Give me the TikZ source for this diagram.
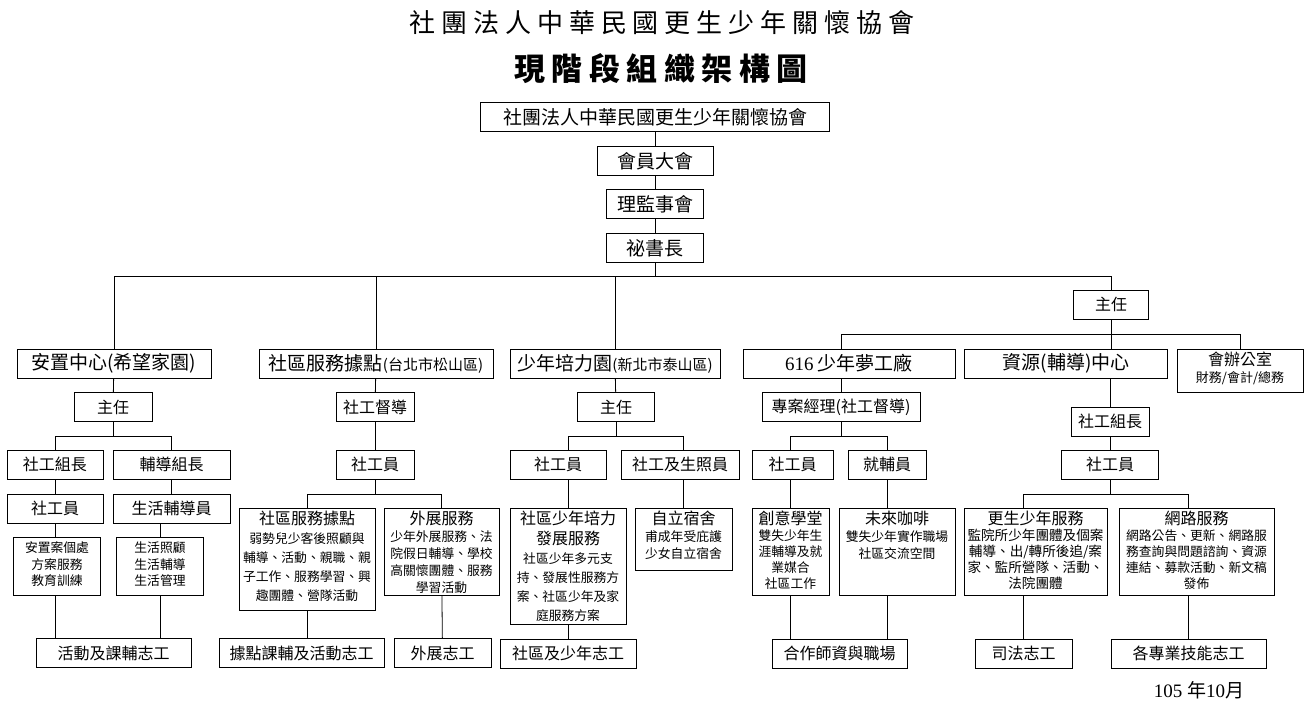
\documentclass[tikz,border=0pt]{standalone}
\usepackage{fontspec}
\setmainfont{Noto Sans CJK TC}
\newfontfamily\numfont{Liberation Serif}
\newfontfamily\titlefont[LetterSpace=23]{Noto Sans CJK TC}
\newfontfamily\subtitlefont[LetterSpace=21]{Noto Sans CJK TC}
\usetikzlibrary{positioning}
\newcommand{\fs}[2]{\fontsize{#1}{#2}\selectfont}
\newcommand{\stack}[4]{\parbox[c][#2][t]{#1}{\centering\vspace*{#3}#4}}

\begin{document}
\begin{tikzpicture}[x=1pt,y=-1pt]
\tikzset{office/.style={draw, line width=0.8pt, inner sep=0pt, minimum height=29pt, font=\fs{16}{19}}}
\tikzset{head/.style={office, font=\fs{19}{22}}}
\tikzset{service/.style={draw, line width=0.8pt, inner sep=0pt}}
\tikzset{link/.style={line width=0.8pt}}
\useasboundingbox (0,0) rectangle (1315,711);
\node[font=\titlefont\fs{26}{30}] (title) at (662,23) {社團法人中華民國更生少年關懷協會};
\node[font=\subtitlefont\bfseries\fs{31}{36}] (subtitle) at (661,69) {現階段組織架構圖};
\node[head, minimum width=349pt] (org) at (655,117) {社團法人中華民國更生少年關懷協會};
\node[head, minimum width=116pt] (gm) at (655,161) {會員大會};
\node[head, minimum width=97pt] (bd) at (655,204) {理監事會};
\node[head, minimum width=97pt] (sg) at (655,248) {祕書長};
\node[office, minimum width=75pt] (dir) at (1111,304.5) {主任};
\node[head, minimum width=194pt] (pc) at (114,363.5) {安置中心(希望家園)};
\node[head, minimum width=234pt] (cs) at (376,363.5) {社區服務據點{\fs{15}{18}(台北市松山區)}};
\node[head, minimum width=210pt] (yg) at (615,363.5) {少年培力園{\fs{15}{18}(新北市泰山區)}};
\node[head, minimum width=212pt] (dw) at (849,363.5) {{\numfont 616} 少年夢工廠};
\node[head, minimum width=203pt] (rc) at (1066,363.5) {資源(輔導)中心};
\node[service] (ao) at (1240,370.5) {\stack{126pt}{43pt}{3pt}{{\fs{16}{19}會辦公室\par}\fs{13}{17}財務/會計/總務}};
\node[office, minimum width=78pt] (pc_dir) at (113,407) {主任};
\node[office, minimum width=78pt] (cs_sup) at (375,407) {社工督導};
\node[office, minimum width=77pt] (yg_dir) at (616,407) {主任};
\node[office, minimum width=158pt] (dw_pm) at (841,407) {專案經理(社工督導)};
\node[office, minimum width=78pt] (rc_lead) at (1110,421.5) {社工組長};
\node[office, minimum width=96pt] (pc_swl) at (55,464.5) {社工組長};
\node[office, minimum width=117pt] (pc_gl) at (171.5,464.5) {輔導組長};
\node[office, minimum width=78pt] (cs_sw) at (375,464.5) {社工員};
\node[office, minimum width=96pt] (yg_sw) at (558,464.5) {社工員};
\node[office, minimum width=118pt] (yg_sc) at (680,464.5) {社工及生照員};
\node[office, minimum width=81pt] (dw_sw) at (792.5,464.5) {社工員};
\node[office, minimum width=78pt] (dw_jf) at (887,464.5) {就輔員};
\node[office, minimum width=97pt] (rc_sw) at (1110,464.5) {社工員};
\node[office, minimum width=96pt] (pc_sw) at (55,508.5) {社工員};
\node[office, minimum width=117pt] (pc_la) at (171.5,508.5) {生活輔導員};
\node[service] (pc_case) at (57,566) {\stack{87pt}{58pt}{5pt}{\fs{12.8}{16.5}安置案個處\\方案服務\\教育訓練}};
\node[service] (pc_life) at (160,566) {\stack{87pt}{58pt}{5pt}{\fs{12.8}{16.5}生活照顧\\生活輔導\\生活管理}};
\node[service] (cs_pt) at (307,559) {\stack{136pt}{102pt}{3pt}{{\fs{16}{19}社區服務據點\par}\fs{12.8}{19}弱勢兒少客後照顧與\\輔導、活動、親職、親\\子工作、服務學習、興\\趣團體、營隊活動}};
\node[service] (cs_out) at (441.5,551.5) {\stack{115pt}{87pt}{3pt}{{\fs{16}{19}外展服務\par}\fs{12.8}{17}少年外展服務、法\\院假日輔導、學校\\高關懷團體、服務\\學習活動}};
\node[service] (yg_dev) at (568,566) {\stack{116pt}{116pt}{3pt}{{\fs{16}{20}社區少年培力\\發展服務\par}\fs{12.8}{19}社區少年多元支\\持、發展性服務方\\案、社區少年及家\\庭服務方案}};
\node[service] (yg_dorm) at (683.5,539) {\stack{97pt}{62pt}{3pt}{{\fs{16}{19}自立宿舍\par}\fs{12.8}{17}甫成年受庇護\\少女自立宿舍}};
\node[service] (dw_cr) at (790.5,551.5) {\stack{77pt}{87pt}{3pt}{{\fs{16}{19}創意學堂\par}\fs{12.8}{16}雙失少年生\\涯輔導及就\\業媒合\\社區工作}};
\node[service] (dw_cf) at (897,551.5) {\stack{116pt}{87pt}{3pt}{{\fs{16}{19}未來咖啡\par}\fs{12.8}{17}雙失少年實作職場\\社區交流空間}};
\node[service] (rc_ex) at (1035.5,551.5) {\stack{143pt}{87pt}{3pt}{{\fs{16}{19}更生少年服務\par}\fs{13.6}{16}監院所少年團體及個案\\輔導、出/轉所後追/案\\家、監所營隊、活動、\\法院團體}};
\node[service] (rc_net) at (1196.5,551.5) {\stack{155pt}{87pt}{3pt}{{\fs{16}{19}網路服務\par}\fs{12.8}{16}網路公告、更新、網路服\\務查詢與問題諮詢、資源\\連結、募款活動、新文稿\\發佈}};
\node[office, minimum width=155pt] (pc_vol) at (113.5,653) {活動及課輔志工};
\node[office, minimum width=165pt] (cs_vol1) at (301.5,653) {據點課輔及活動志工};
\node[office, minimum width=97pt] (cs_vol2) at (442.5,653) {外展志工};
\node[office, minimum width=136pt] (yg_vol) at (568,653.5) {社區及少年志工};
\node[office, minimum width=135pt] (dw_vol) at (839.5,653.5) {合作師資與職場};
\node[office, minimum width=97pt] (rc_vol1) at (1023.5,653.5) {司法志工};
\node[office, minimum width=155pt] (rc_vol2) at (1188.5,653.5) {各專業技能志工};
\node[font=\fs{19}{22}] (date) at (1199,690) {{\numfont 105 }年{\numfont 10}月};
\coordinate (bus1) at (0,276);
\coordinate (bus2) at (0,334);
\coordinate (bus3) at (0,436);
\coordinate (bus4) at (0,494);
\draw[link] (org) -- (gm);
\draw[link] (gm) -- (bd);
\draw[link] (bd) -- (sg);
\draw[link] (sg) -- (sg |- bus1);
\draw[link] (pc) |- (bus1 -| dir) -- (dir);
\draw[link] (cs) -- (cs |- bus1);
\draw[link] (yg) -- (yg |- bus1);
\draw[link] (dir) -- (dir |- rc.north);
\draw[link] (dw_pm |- dw.north) |- (bus2 -| ao) -- (ao);
\draw[link] (pc) -- (pc_dir);
\draw[link] (pc_dir) -- (pc_dir |- bus3);
\draw[link] (pc_swl) |- (bus3 -| pc_gl) -- (pc_gl);
\draw[link] (pc_swl) -- (pc_sw);
\draw[link] (pc_gl) -- (pc_la);
\draw[link] (pc_sw) -- (pc_sw |- pc_case.north);
\draw[link] (pc_life |- pc_la.south) -- (pc_life);
\draw[link] (pc_sw |- pc_case.south) -- (pc_sw |- pc_vol.north);
\draw[link] (pc_life) -- (pc_life |- pc_vol.north);
\draw[link] (cs) -- (cs_sup);
\draw[link] (cs_sup) -- (cs_sw);
\draw[link] (cs_sw) -- (cs_sw |- bus4);
\draw[link] (cs_pt) |- (bus4 -| cs_out) -- (cs_out);
\draw[link] (cs_pt) -- (cs_pt |- cs_vol1.north);
\draw[link] (cs_out) -- (cs_vol2);
\draw[link] (yg) -- (yg_dir);
\draw[link] (yg_dir) -- (yg_dir |- bus3);
\draw[link] (yg_dev |- yg_sw.north) |- (bus3 -| yg_dorm) -- (yg_dorm |- yg_sc.north);
\draw[link] (yg_dev |- yg_sw.south) -- (yg_dev);
\draw[link] (yg_dorm |- yg_sc.south) -- (yg_dorm);
\draw[link] (yg_dev) -- (yg_vol);
\draw[link] (dw_pm |- dw.south) -- (dw_pm);
\draw[link] (dw_pm) -- (dw_pm |- bus3);
\draw[link] (dw_cr |- dw_sw.north) |- (bus3 -| dw_jf) -- (dw_jf);
\draw[link] (dw_cr |- dw_sw.south) -- (dw_cr);
\draw[link] (dw_jf) -- (dw_jf |- dw_cf.north);
\draw[link] (dw_cr) -- (dw_cr |- dw_vol.north);
\draw[link] (dw_jf |- dw_cf.south) -- (dw_jf |- dw_vol.north);
\draw[link] (rc_lead |- rc.south) -- (rc_lead);
\draw[link] (rc_lead) -- (rc_sw);
\draw[link] (rc_sw) -- (rc_sw |- bus4);
\draw[link] (rc_vol1 |- rc_ex.north) |- (bus4 -| rc_vol2) -- (rc_vol2 |- rc_net.north);
\draw[link] (rc_vol1 |- rc_ex.south) -- (rc_vol1);
\draw[link] (rc_vol2 |- rc_net.south) -- (rc_vol2);
\end{tikzpicture}
\end{document}
